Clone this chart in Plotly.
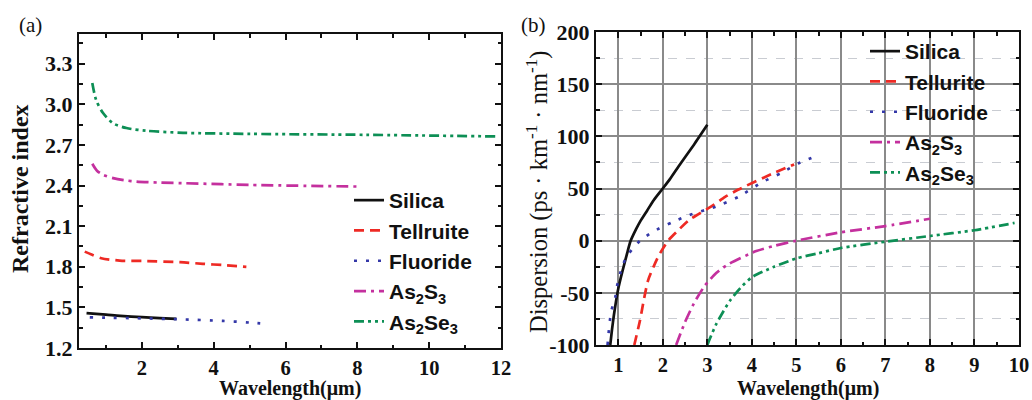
import plotly.graph_objects as go

# ---------------- Panel (a): refractive index vs wavelength ----------------
silica_wl_a = [0.46, 1.0, 1.4, 2.0, 2.5, 2.96]
silica_n = [1.457, 1.446, 1.437, 1.428, 1.421, 1.415]
tellurite_wl_a = [0.41, 0.6, 0.87, 1.38, 2.03, 3.06, 3.7, 4.3, 4.91]
tellurite_n = [1.912, 1.89, 1.863, 1.846, 1.843, 1.834, 1.822, 1.812, 1.800]
fluoride_wl_a = [0.55, 1.0, 1.85, 3.06, 4.26, 5.0, 5.47]
fluoride_n = [1.427, 1.424, 1.420, 1.412, 1.400, 1.388, 1.378]
as2s3_wl_a = [0.62, 0.75, 0.92, 1.2, 1.5, 1.85, 2.5, 3.15, 5.0, 8.0]
as2s3_n = [2.561, 2.51, 2.48, 2.455, 2.44, 2.43, 2.422, 2.418, 2.405, 2.393]
as2se3_wl_a = [0.62, 0.73, 0.92, 1.2, 1.57, 2.13, 3.15, 5.0, 8.26, 11.9]
as2se3_n = [3.158, 3.03, 2.936, 2.86, 2.825, 2.805, 2.79, 2.782, 2.775, 2.763]

xticks_a = [2, 4, 6, 8, 10, 12]
xtick_labels_a = ["2", "4", "6", "8", "10", "12"]
yticks_a = [1.2, 1.5, 1.8, 2.1, 2.4, 2.7, 3.0, 3.3]
ytick_labels_a = ["1.2", "1.5", "1.8", "2.1", "2.4", "2.7", "3.0", "3.3"]
names_a = ["Silica", "Tellruite", "Fluoride", "As<sub>2</sub>S<sub>3</sub>", "As<sub>2</sub>Se<sub>3</sub>"]
xtitle_a = "Wavelength(μm)"
ytitle_a = "Refractive index"

# ---------------- Panel (b): dispersion vs wavelength ----------------
silica_wl_b = [0.82, 0.86, 0.9, 0.95, 1.0, 1.06, 1.12, 1.2, 1.27, 1.4, 1.5, 1.65, 1.8, 2.0, 2.16, 2.4, 2.7, 3.0]
silica_d = [-100, -85, -72, -58, -46, -35, -25, -12, -1, 11, 19, 29, 39, 50, 59, 74, 92, 111]
tellurite_wl_b = [1.36, 1.49, 1.56, 1.67, 1.9, 2.12, 2.3, 2.6, 3.1, 3.4, 3.7, 4.45, 4.95]
tellurite_d = [-100, -76, -60, -38, -15, 0, 8, 20, 33, 42, 49, 64, 73]
fluoride_wl_b = [0.76, 0.78, 0.84, 0.93, 0.97, 1.08, 1.19, 1.34, 1.49, 1.78, 2.23, 2.6, 3.19, 3.7, 4.23, 4.67, 5.04, 5.38]
fluoride_d = [-100, -90, -68, -55, -44, -26, -15, -7, 0, 8.6, 18, 24.6, 32.6, 42, 56, 65, 74, 80]
as2s3_wl_b = [2.3, 2.5, 2.7, 2.93, 3.2, 3.5, 4.1, 4.5, 5.0, 6.0, 7.0, 8.0]
as2s3_d = [-100, -78, -60, -44, -31, -22, -10, -5, 0, 8, 14, 21]
as2se3_wl_b = [3.0, 3.2, 3.5, 3.75, 4.0, 4.5, 5.0, 5.5, 6.0, 7.0, 8.0, 9.0, 9.9]
as2se3_d = [-100, -80, -58, -45, -35, -25, -17, -12, -7, -1, 4.5, 10, 17]

xticks_b = [1, 2, 3, 4, 5, 6, 7, 8, 9, 10]
xtick_labels_b = ["1", "2", "3", "4", "5", "6", "7", "8", "9", "10"]
yticks_b = [-100, -50, 0, 50, 100, 150, 200]
ytick_labels_b = ["-100", "-50", "0", "50", "100", "150", "200"]
names_b = ["Silica", "Tellurite", "Fluoride", "As<sub>2</sub>S<sub>3</sub>", "As<sub>2</sub>Se<sub>3</sub>"]
xtitle_b = "Wavelength(μm)"
ytitle_b = "Dispersion (ps · km<sup>-1</sup> · nm<sup>-1</sup>)"

colors = ["#111111", "#ee2a24", "#3438a8", "#c4309e", "#0d8f55"]
dashes = ["solid", "10px,6px", "3px,9px", "12px,5px,3px,5px", "10px,4px,3px,4px,3px,4px"]

SERIF = "Liberation Serif"
SANS = "Liberation Sans"

# page geometry (pixels) -> plot area
W, H = 1032, 400
ML, MR, MT, MB = 79, 13, 32, 52
PW, PH = W - ML - MR, H - MT - MB


def px_x(px):
    return (px - ML) / PW


def px_y(py):
    return (H - MB - py) / PH


fig = go.Figure()

data_a = [(silica_wl_a, silica_n), (tellurite_wl_a, tellurite_n), (fluoride_wl_a, fluoride_n),
          (as2s3_wl_a, as2s3_n), (as2se3_wl_a, as2se3_n)]
data_b = [(silica_wl_b, silica_d), (tellurite_wl_b, tellurite_d), (fluoride_wl_b, fluoride_d),
          (as2s3_wl_b, as2s3_d), (as2se3_wl_b, as2se3_d)]

for i, (x, y) in enumerate(data_a):
    fig.add_trace(go.Scatter(x=x, y=y, mode="lines", name=names_a[i],
                             line=dict(color=colors[i], width=2.7, dash=dashes[i], shape="spline", smoothing=0.8),
                             xaxis="x", yaxis="y", legend="legend", legendgroup="a%d" % i))
for i, (x, y) in enumerate(data_b):
    fig.add_trace(go.Scatter(x=x, y=y, mode="lines", name=names_b[i],
                             line=dict(color=colors[i], width=2.7, dash=dashes[i], shape="spline", smoothing=0.6),
                             xaxis="x2", yaxis="y2", legend="legend2", legendgroup="b%d" % i))

tickfont = dict(family=SERIF, size=22, color="#111111", weight="bold")
xtickfont = dict(family=SERIF, size=20.5, color="#111111", weight="bold")
axis_common = dict(showline=True, linecolor="#111111", linewidth=2, mirror="ticks",
                   ticks="inside", ticklen=6, tickwidth=1.5, tickcolor="#111111",
                   zeroline=False, tickmode="array", automargin=False)

legend_font = dict(family=SANS, size=21, color="#111111", weight="bold")
xtitle_font = dict(family=SERIF, size=20, color="#111111", weight="bold")

fig.update_layout(
    width=W, height=H,
    margin=dict(l=ML, r=MR, t=MT, b=MB, pad=0),
    paper_bgcolor="white", plot_bgcolor="white",
    xaxis=dict(domain=[px_x(79), px_x(501)], range=[0.25, 12], tickvals=xticks_a, ticktext=xtick_labels_a,
               showgrid=False, anchor="y", ticklabelstandoff=0, tickfont=xtickfont,
               minor=dict(dtick=1, ticks="inside", ticklen=3.5, tickcolor="#111111", showgrid=False),
               **axis_common),
    yaxis=dict(domain=[px_y(348), px_y(34)], range=[1.2, 3.52], tickvals=yticks_a, ticktext=ytick_labels_a,
               showgrid=False, anchor="x", tickfont=tickfont,
               minor=dict(dtick=0.15, tick0=1.2, ticks="inside", ticklen=3.5, tickcolor="#111111", showgrid=False),
               **axis_common),
    xaxis2=dict(domain=[px_x(596), px_x(1019)], range=[0.5, 10], tickvals=xticks_b, ticktext=xtick_labels_b,
                showgrid=True, gridcolor="#8a8a8a", gridwidth=1.6, anchor="y2", ticklabelstandoff=0,
                tickfont=xtickfont,
                minor=dict(dtick=0.5, tick0=0.5, ticks="inside", ticklen=3.5, tickcolor="#111111", showgrid=False),
                **axis_common),
    yaxis2=dict(domain=[px_y(345), px_y(32)], range=[-100, 200], tickvals=yticks_b, ticktext=ytick_labels_b,
                showgrid=True, gridcolor="#8a8a8a", gridwidth=1.6, anchor="x2", tickfont=tickfont,
                minor=dict(dtick=25, tick0=-100, ticks="inside", ticklen=3.5, tickcolor="#111111",
                           showgrid=True, gridcolor="#c9ccd2", gridwidth=1, griddash="dash"),
                **axis_common),
    legend=dict(x=px_x(349), y=px_y(180), xanchor="left", yanchor="top", bgcolor="rgba(0,0,0,0)",
                font=legend_font, tracegroupgap=0, itemwidth=30),
    legend2=dict(x=px_x(865), y=px_y(31), xanchor="left", yanchor="top", bgcolor="rgba(0,0,0,0)",
                 font=legend_font, tracegroupgap=0, itemwidth=30),
    showlegend=True,
    annotations=[
        dict(text="(a)", x=px_x(30), y=px_y(25), xref="paper", yref="paper", showarrow=False,
             xanchor="center", yanchor="middle", font=dict(family=SERIF, size=21, color="#111111")),
        dict(text="(b)", x=px_x(533), y=px_y(25), xref="paper", yref="paper", showarrow=False,
             xanchor="center", yanchor="middle", font=dict(family=SERIF, size=21, color="#111111")),
        dict(text=xtitle_a, x=px_x(290), y=px_y(376), xref="paper", yref="paper", showarrow=False,
             xanchor="center", yanchor="top", borderpad=0, font=xtitle_font),
        dict(text=xtitle_b, x=px_x(807.5), y=px_y(376), xref="paper", yref="paper", showarrow=False,
             xanchor="center", yanchor="top", borderpad=0, font=xtitle_font),
        dict(text=ytitle_a, x=px_x(20), y=px_y(189), xref="paper", yref="paper", showarrow=False,
             textangle=-90, xanchor="center", yanchor="middle", borderpad=0,
             font=dict(family=SERIF, size=24, color="#111111", weight="bold")),
        dict(text=ytitle_b, x=px_x(537), y=px_y(192), xref="paper", yref="paper", showarrow=False,
             textangle=-90, xanchor="center", yanchor="middle", borderpad=0,
             font=dict(family=SERIF, size=24.5, color="#111111")),
    ],
)

fig.write_html("out.html")
